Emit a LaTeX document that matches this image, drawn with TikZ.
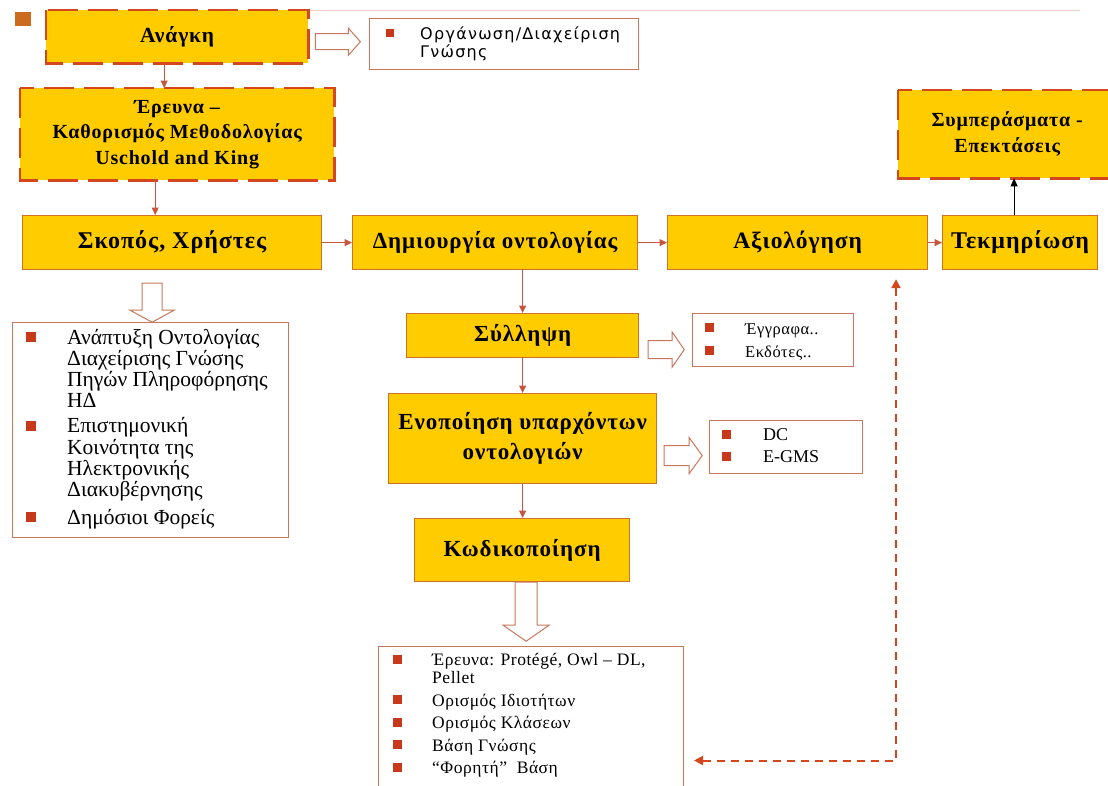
\documentclass[tikz,border=0pt]{standalone}
\usepackage{fontspec}
\setmainfont{Liberation Serif}
\newfontfamily\thinsans[LetterSpace=8]{DejaVu Sans}
\newfontfamily\widetimes[LetterSpace=3]{Liberation Serif}
\newfontfamily\boxfont[LetterSpace=4]{Liberation Serif}
\usetikzlibrary{arrows.meta,calc}

\definecolor{gold}{HTML}{FFCC00}
\definecolor{boxedge}{HTML}{D0702A}
\definecolor{linkred}{HTML}{C8553D}
\definecolor{dashred}{HTML}{D4461C}
\definecolor{bulletred}{HTML}{C8381A}
\definecolor{listedge}{HTML}{C8775A}
\definecolor{pageline}{HTML}{F2CFC6}
\definecolor{cornermark}{HTML}{CC6A1E}

\newcommand\bul[1]{\textcolor{bulletred}{\rule[2pt]{#1}{#1}}}
\newcommand\boxsize[2]{\boxfont\fontsize{#1}{#2}\selectfont\bfseries}

\tikzset{
  goldbox/.style={fill=gold, draw=boxedge, line width=1.2pt, anchor=north west,
    inner sep=0pt, align=center},
  dashgold/.style={fill=gold, draw=none, anchor=north west, inner sep=0pt, align=center},
  dashedge/.style={draw=dashred, line width=2.8pt, dash pattern=on 30pt off 10pt},
  listbox/.style={draw=listedge, line width=1pt, fill=white, anchor=north west, inner sep=0pt},
  listtext/.style={anchor=north west, inner sep=0pt, align=left},
  link/.style={draw=linkred, line width=1pt, -{Triangle[length=7.5pt,width=7pt]}},
  blacklink/.style={draw=black, line width=1pt, -{Triangle[length=8pt,width=7pt]}},
  hollow/.style={draw=listedge, line width=1pt, fill=white, line join=miter},
  dasharrow/.style={draw=dashred, line width=2pt, dash pattern=on 8pt off 6pt,
    {Triangle[length=9pt,width=9pt]}-{Triangle[length=9pt,width=9pt]}},
  pics/harrow/.style n args={4}{code={
    \draw[hollow] (0,-#2) -- ({#1-#4},-#2) -- ({#1-#4},-#3) -- (#1,0)
      -- ({#1-#4},#3) -- ({#1-#4},#2) -- (0,#2) -- cycle;}},
}

\begin{document}
\begin{tikzpicture}[x=1pt,y=-1pt]
\useasboundingbox (0,0) rectangle (1108,785);
\fill[white] (0,0) rectangle (1108,785);

% faint rule along the top and the corner mark
\draw[pageline, line width=1pt] (46,10) -- (1080,10);
\fill[cornermark] (15,12) rectangle (31,26);

% ---------- dashed gold boxes ----------
\node[dashgold, minimum width=262, minimum height=53,
      font={\boxsize{21.5}{24}}] (need) at (46,10) {Ανάγκη};
\draw[dashedge] (need.north west) rectangle (need.south east);

\node[dashgold, minimum width=314, minimum height=92,
      font={\boxsize{20}{25.5}}] (research) at (20,88)
      {Έρευνα –\\Καθορισμός Μεθοδολογίας\\Uschold and King};
\draw[dashedge] (research.north west) rectangle (research.south east);

\node[dashgold, minimum width=218, minimum height=88,
      font={\boxsize{20}{26}}] (concl) at (898,90)
      {Συμπεράσματα -\\Επεκτάσεις};
\draw[dashedge] (concl.north west) rectangle (concl.south east);

% ---------- main row ----------
\node[goldbox, minimum width=299, minimum height=54,
      font={\boxsize{24}{26}}] (purpose) at (22,215) {Σκοπός, Χρήστες};
\node[goldbox, minimum width=285, minimum height=54,
      font={\boxsize{23}{26}}] (create) at (352,215) {Δημιουργία οντολογίας};
\node[goldbox, minimum width=260, minimum height=54,
      font={\boxsize{23.5}{26}}] (eval) at (667,215) {Αξιολόγηση};
\node[goldbox, minimum width=155, minimum height=54,
      font={\boxsize{24}{26}}] (doc) at (942,215) {Τεκμηρίωση};

% ---------- creation steps ----------
\node[goldbox, minimum width=232, minimum height=44,
      font={\boxsize{23}{26}}] (concept) at (406,313) {Σύλληψη};
\node[goldbox, minimum width=268, minimum height=90,
      font={\boxsize{23}{30}}] (merge) at (388,393)
      {Ενοποίηση υπαρχόντων\\οντολογιών};
\node[goldbox, minimum width=215, minimum height=63,
      font={\boxsize{23}{26}}] (code) at (414,518) {Κωδικοποίηση};

% ---------- white lists ----------
\node[listbox, minimum width=269, minimum height=51] (needlist) at (369,18) {};
\node[listtext, font={\thinsans\fontsize{16}{18}\selectfont}] (needtext) at (386,26)
{\begin{tabular}{@{}p{34pt}@{}l@{}}
\bul{8pt} & Οργάνωση/Διαχείριση\\
          & Γνώσης
\end{tabular}};

\node[listbox, minimum width=276, minimum height=215] (userlist) at (12,322) {};
\node[listtext, font={\fontsize{21.5}{20.5}\selectfont}] (usertext) at (26,329)
{\begin{tabular}{@{}p{41pt}@{}l@{}}
\bul{10pt} & Ανάπτυξη Οντολογίας\\
           & Διαχείρισης Γνώσης\\
           & Πηγών Πληροφόρησης\\
           & ΗΔ\\[4pt]
\bul{10pt} & Επιστημονική\\
           & Κοινότητα της\\
           & Ηλεκτρονικής\\
           & Διακυβέρνησης\\[6pt]
\bul{10pt} & Δημόσιοι Φορείς
\end{tabular}};

\node[listbox, minimum width=161, minimum height=53] (sourcelist) at (692,313) {};
\node[listtext, font={\widetimes\fontsize{16.5}{23}\selectfont}] (sourcetext) at (705,318)
{\begin{tabular}{@{}p{40pt}@{}l@{}}
\bul{9pt} & Έγγραφα..\\
\bul{9pt} & Εκδότες..
\end{tabular}};

\node[listbox, minimum width=153, minimum height=53] (reuselist) at (709,420) {};
\node[listtext, font={\fontsize{18}{22}\selectfont}] (reusetext) at (722,425)
{\begin{tabular}{@{}p{41pt}@{}l@{}}
\bul{9pt} & DC\\
\bul{9pt} & E-GMS
\end{tabular}};

\node[listbox, minimum width=305, minimum height=150] (toollist) at (378,646) {};
\node[listtext, font={\widetimes\fontsize{17.5}{18}\selectfont}] (tooltext) at (393,653)
{\begin{tabular}{@{}p{39pt}@{}l@{}}
\bul{9pt} & Έρευνα: Protégé, Owl – DL,\\
          & Pellet\\[4.5pt]
\bul{9pt} & Ορισμός Ιδιοτήτων\\[4.5pt]
\bul{9pt} & Ορισμός Κλάσεων\\[4.5pt]
\bul{9pt} & Βάση Γνώσης\\[4.5pt]
\bul{9pt} & “Φορητή”\ \ Βάση
\end{tabular}};

% ---------- connectors ----------
\draw[link] ($(need.south)+(-13,0)$) coordinate (nr) -- (nr |- research.north);
\draw[link] ($(research.south)+(-22,0)$) coordinate (rp) -- (rp |- purpose.north);
\draw[link] (purpose.east) -- (create.west);
\draw[link] (create.east) -- (eval.west);
\draw[link] (eval.east) -- (doc.west);
\draw[blacklink] ($(doc.north)+(-6,0)$) coordinate (dc) -- (dc |- concl.south);
\draw[link] (concept.north |- create.south) -- (concept.north);
\draw[link] (concept.south) -- (concept.south |- merge.north);
\draw[link] (merge.south) -- (merge.south |- code.north);

% feedback from the evaluation to the coded ontology
\coordinate (fbtop) at ($(eval.south west)+(229,9)$);
\coordinate (fbend) at ($(toollist.east)+(10,0)$);
\draw[dasharrow] (fbtop) |- ($(fbend)+(0,39)$);

% ---------- hollow block arrows ----------
\pic at ($(need.east)+(7,5)$) {harrow={45}{8}{13.5}{12}};
\pic[rotate=-90] at ($(purpose.south)+(-20,13)$) {harrow={39}{10}{22}{12}};
\pic at ($(concept.east)+(9,14)$) {harrow={36}{9}{17.5}{12}};
\pic at ($(merge.east)+(7,17)$) {harrow={38}{10}{18}{13}};
\pic[rotate=-90] at ($(code.south)+(4,0)$) {harrow={59}{11}{23}{16}};
\end{tikzpicture}
\end{document}
